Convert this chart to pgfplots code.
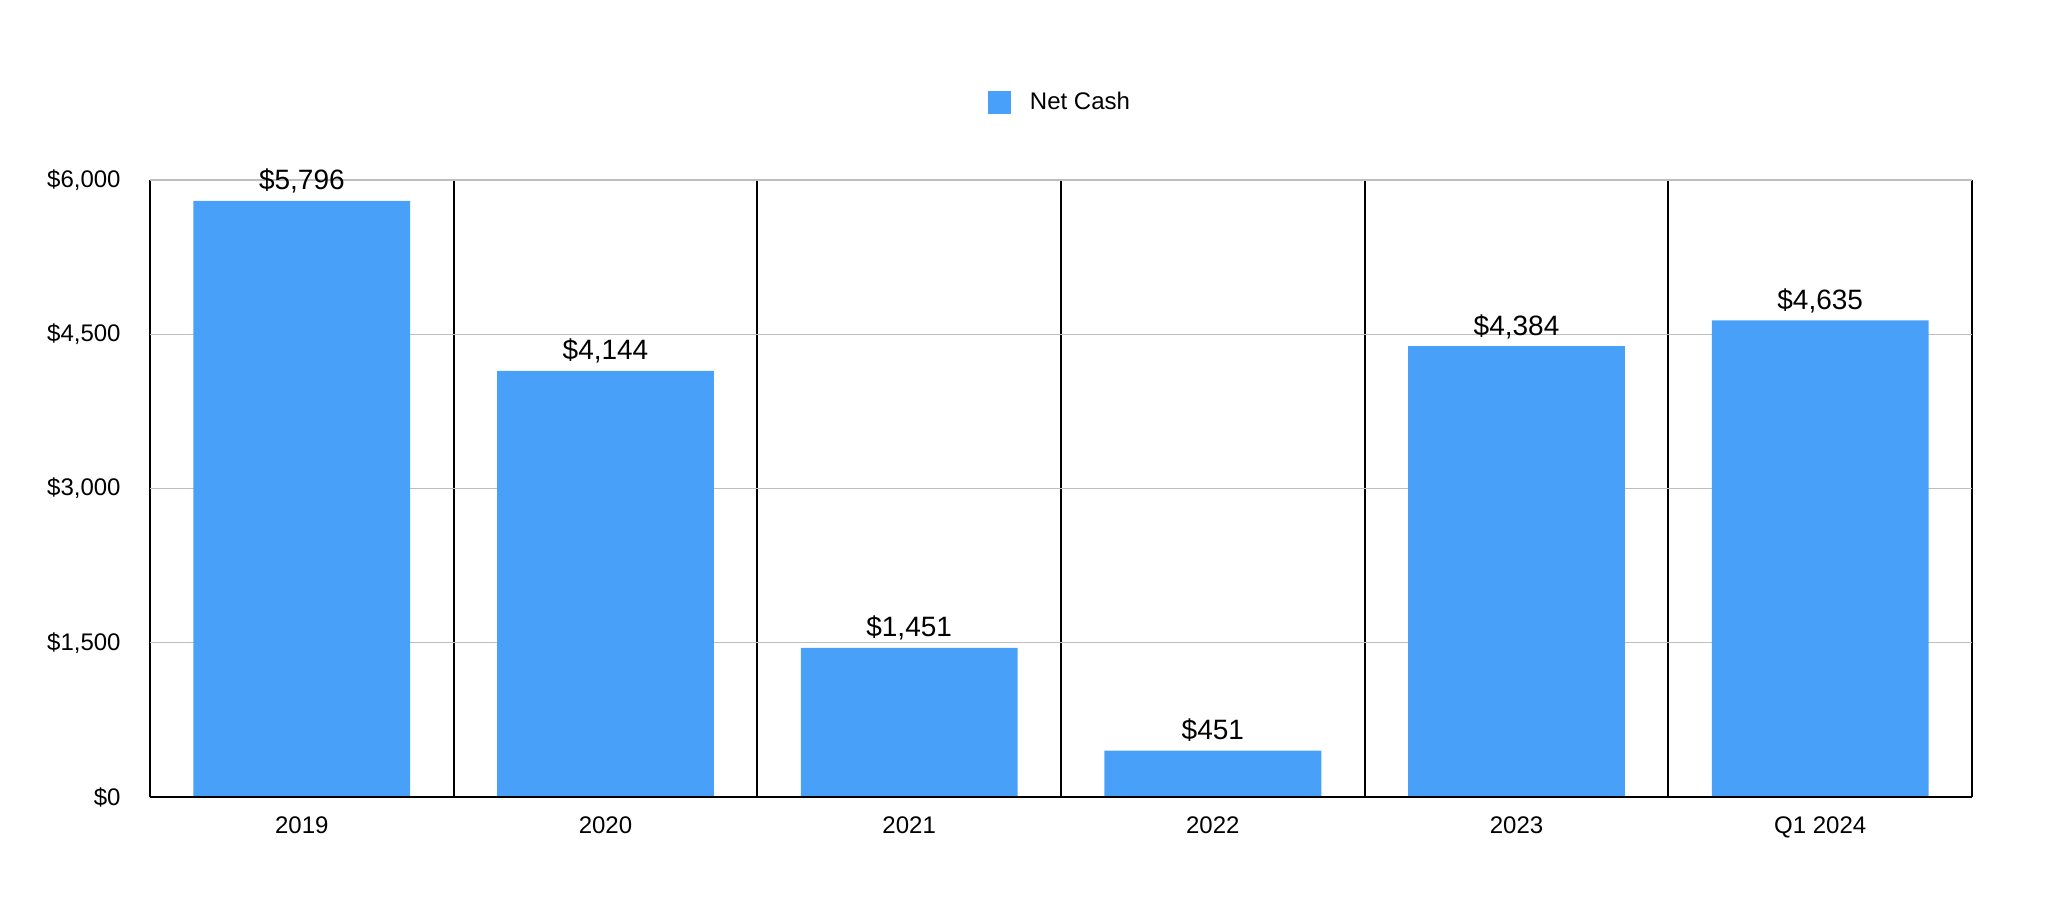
\documentclass[border=0pt]{standalone}
\usepackage{fontspec}
\setmainfont{Liberation Sans}
\usepackage{pgfplots}
\pgfplotsset{compat=1.18}
\definecolor{barblue}{RGB}{73,160,248}
\definecolor{gridgray}{RGB}{190,190,190}
\begin{document}
\begin{tikzpicture}
\path[use as bounding box] (-75pt,-54.5pt) rectangle (957pt,398.5pt);
\begin{axis}[
  at={(0,0)}, anchor=south west,
  scale only axis,
  width=911pt, height=308.5pt,
  xmin=-0.5, xmax=5.5,
  ymin=0, ymax=6000,
  xtick={0,1,2,3,4,5},
  xticklabels={2019,2020,2021,2022,2023,Q1 2024},
  minor xtick={-0.5,0.5,1.5,2.5,3.5,4.5,5.5},
  xminorgrids,
  minor x grid style={black, line width=1pt},
  ytick={0,1500,3000,4500,6000},
  yticklabels={{\$0},{\$1,500},{\$3,000},{\$4,500},{\$6,000}},
  ymajorgrids,
  major y grid style={gridgray, line width=0.6pt},
  major tick length=0pt, minor tick length=0pt,
  axis line style={draw=none},
  tick label style={font=\fontsize{12}{14}\selectfont, inner sep=0pt},
  yticklabel style={anchor=east, xshift=-14.5pt},
  xticklabel style={anchor=north, yshift=-9.5pt},
  /pgf/number format/assume math mode=true,
  ybar,
  bar width=0.714,
  legend style={at={(0.5,1.1264)}, anchor=center, draw=none, fill=none,
    font=\fontsize{12}{14}\selectfont, inner sep=0pt,
    /tikz/every even column/.append style={column sep=0pt}},
  legend cell align=left,
  legend image code/.code={\fill[barblue] (0pt,-5.75pt) rectangle (11.5pt,5.75pt);},
  clip=false,
]
\addplot[fill=barblue, draw=none,
  point meta=y,
  nodes near coords={\$\pgfmathprintnumber[fixed,precision=0,1000 sep={,}]{\pgfplotspointmeta}},
  every node near coord/.append style={anchor=base, inner sep=0pt, yshift=5.5pt, font=\fontsize{14}{16}\selectfont, black},
] coordinates {(0,5796) (1,4144) (2,1451) (3,451) (4,4384) (5,4635)};
\addlegendentry{\hspace{7.5pt}Net Cash}
\draw[black, line width=1pt] (rel axis cs:0,0) -- (rel axis cs:1,0);
\end{axis}
\end{tikzpicture}
\end{document}
